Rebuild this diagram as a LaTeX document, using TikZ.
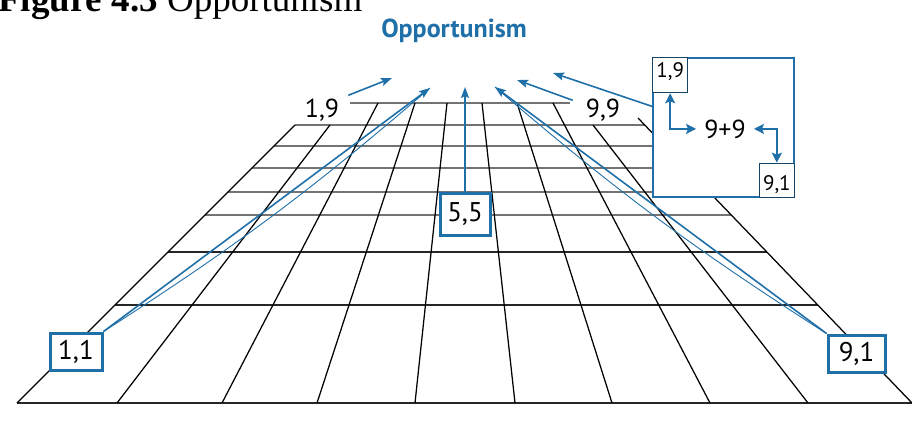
\documentclass[tikz,border=0pt]{standalone}
\usepackage{fontspec}
\setmainfont{Liberation Serif}
\newfontfamily\lab{PT Sans}
\usetikzlibrary{arrows.meta,calc}
\definecolor{bl}{RGB}{31,111,168}
\begin{document}
\begin{tikzpicture}[x=1pt,y=-1pt,
  hl/.style={line width=1.8pt,draw=black!55},
  hd/.style={line width=1.4pt,draw=black!85},
  vl/.style={line width=1.25pt,draw=black},
  arr/.style={draw=bl,line width=1.6pt,-{Stealth[length=11pt,width=8pt,inset=2pt]}},
  thn/.style={draw=bl,line width=0.9pt},
  dbl/.style={draw=bl,line width=1.8pt,{Stealth[length=10pt,width=10pt,inset=2pt]}-{Stealth[length=10pt,width=10pt,inset=2pt]}},
  nbox/.style={draw=bl,line width=3pt,fill=white,inner sep=0pt,font=\lab\fontsize{27}{27}\selectfont},
  lbl/.style={font=\lab\fontsize{26}{26}\selectfont,inner sep=3pt},
  sbox/.style={draw=bl!60!black,line width=1.3pt,fill=white,inner sep=1.5pt,minimum width=35pt,font=\lab\fontsize{21}{21}\selectfont}
]
\useasboundingbox (0,0) rectangle (912,423);

% title (cut off at the top, as in the reference)
\node[anchor=base west,inner sep=0pt,font=\fontsize{37}{40}\selectfont] (title) at (-2,11) {\textbf{Figure 4.3} Opportunism};
\node[anchor=base,inner sep=0pt,font=\lab\bfseries\fontsize{26}{26}\selectfont,text=bl] (sub) at (454,37) {Opportunism};

% grid: horizontals
\draw[hl] (350,103) -- (570,103);
\draw[hl] (295,125) -- (645,125);
\draw[hl] (274,146) -- (665,146);
\draw[hl] (252,168) -- (686,168);
\draw[hl] (228,192) -- (709,192);
\draw[hl] (205,215) -- (731,215);
\draw[hd] (168,252) -- (767,252);
\draw[hd] (115,305) -- (818,305);
\draw[hd] (17,403) -- (912,403);
% grid: verticals
\draw[vl] (17,403) -- (295,125);
\draw[vl] (117,403) -- (330,125);
\draw[vl] (222,403) -- (378,103);
\draw[vl] (317,403) -- (415,103);
\draw[vl] (415,403) -- (447,103);
\draw[vl] (515,403) -- (482,103);
\draw[vl] (612,403) -- (517,103);
\draw[vl] (710,403) -- (553,103);
\draw[vl] (808,403) -- (593,125);
\draw[vl] (912,403) -- (638,118);

% labels and boxes
\node[lbl,anchor=base] (l19) at (322,117) {1,9};
\node[lbl,anchor=base] (l99) at (603,117) {9,9};
\node[nbox,minimum width=52pt,minimum height=37pt] (b11) at (76,351.5) {1,1};
\node[nbox,minimum width=50pt,minimum height=42pt] (b55) at (465,214) {5,5};
\node[nbox,minimum width=57pt,minimum height=37pt] (b91) at (856.5,353.5) {9,1};

% arrow tips
\coordinate (t1) at (392,78);
\coordinate (t2) at (430,88);
\coordinate (t3) at (465,87);
\coordinate (t4) at (495,87);
\coordinate (t5) at (517,80);
\coordinate (t6) at (553,73);

% big box
\node[draw=bl,line width=2pt,fill=white,minimum width=141pt,minimum height=139pt,inner sep=0pt] (big) at (723.5,127.5) {};
\node[sbox,anchor=north west,text height=18pt,text depth=14pt] (s19) at (big.north west) {1,9};
\node[sbox,anchor=south east,text height=25.5pt,text depth=5.5pt] (s91) at (big.south east) {9,1};
\node[lbl,inner xsep=8pt,anchor=base] (p99) at (725,138) {9+9};
\draw[dbl] (s19.south) |- (p99.west);
\draw[dbl] (p99.east) -| (s91.north);

% arrows to the top
\draw[arr] ([xshift=6pt]l19.north east) -- (t1);
\draw[thn] (b11.north east) to[bend right=4] (t2);
\draw[arr] (b11.north east) -- (t2);
\draw[arr] (b55.north) -- (t3);
\draw[thn] (b91.north west) to[bend left=4] (t4);
\draw[arr] (b91.north west) -- (t4);
\draw[arr] ([xshift=-10pt,yshift=-5pt]l99.north west) -- (t5);
\draw[arr] ($(big.north west)!0.35!(big.south west)$) -- (t6);
\end{tikzpicture}
\end{document}
